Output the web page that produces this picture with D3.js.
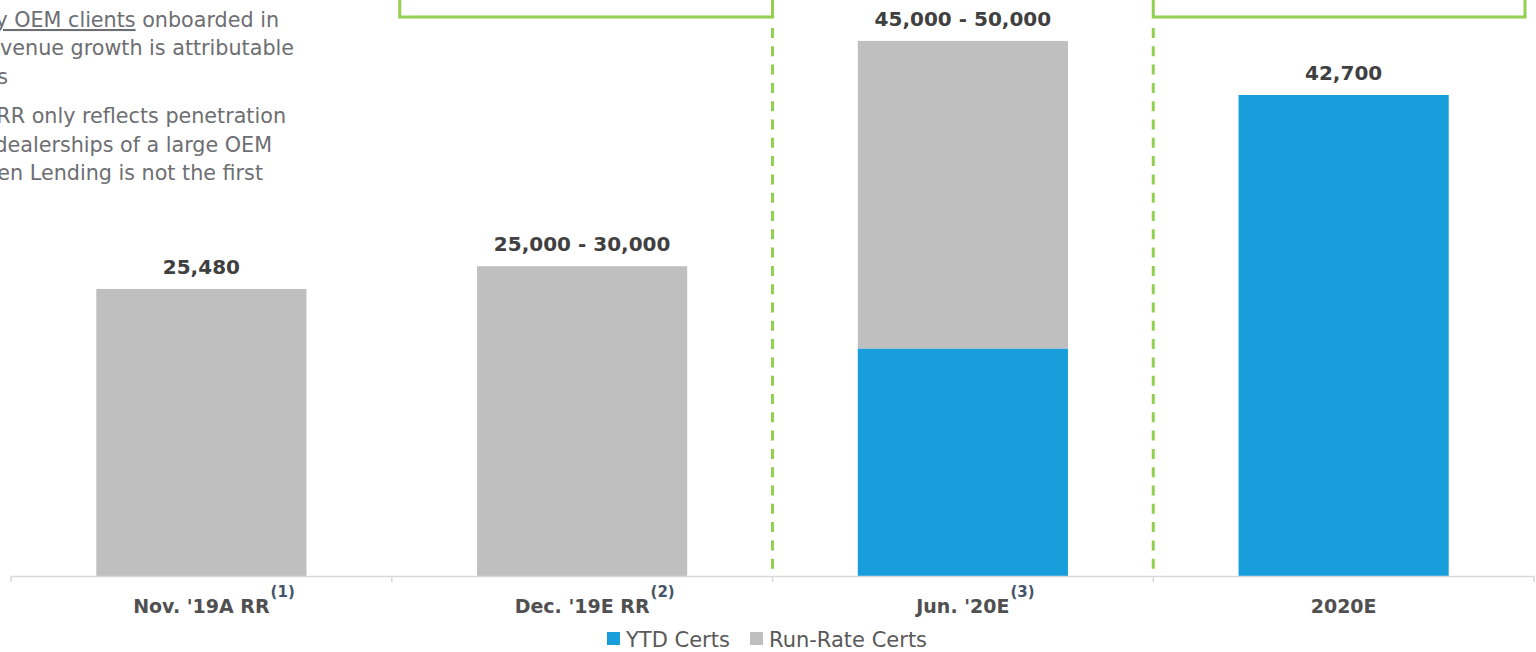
<!DOCTYPE html>
<html>
<head>
<meta charset="utf-8">
<script src="https://cdn.jsdelivr.net/npm/d3@7/dist/d3.min.js"></script>
<style>
  html, body { margin: 0; padding: 0; background: #fff; overflow: hidden; }
  svg { display: block; font-family: "DejaVu Sans", Verdana, sans-serif; }
</style>
</head>
<body>
<svg id="chart" width="1536" height="652"></svg>
<script>
// Categories and values (certs)
const categories = ["Nov. '19A RR", "Dec. '19E RR", "Jun. '20E", "2020E"];
const footnotes = ["(1)", "(2)", "(3)", ""];
const ytdCerts = [0, 0, 20200, 42700];
const totalLow = [25480, 25000, 45000, 42700];
const totalHigh = [25480, 30000, 50000, 42700];
const seriesNames = ["YTD Certs", "Run-Rate Certs"];

// Side commentary lines (partly cut by the left edge)
const noteLines = [
  "y OEM clients onboarded in",
  "venue growth is attributable",
  "OEMs",
  "RR only reflects penetration",
  "dealerships of a large OEM",
  "Open Lending is not the first"
];

const COLORS = { ytd: "#189FDB", run: "#BFBFBF", green: "#92D050" };

const svg = d3.select("#chart");
const fmt = d3.format(",");

const rows = categories.map((c, i) => {
  const mid = (totalLow[i] + totalHigh[i]) / 2;
  return {
    cat: c,
    ytd: ytdCerts[i],
    run: mid - ytdCerts[i],
    total: mid,
    label: totalLow[i] === totalHigh[i] ? fmt(totalLow[i]) : fmt(totalLow[i]) + " - " + fmt(totalHigh[i]),
    note: footnotes[i]
  };
});

const baseY = 576;
const x = d3.scaleBand().domain(categories).range([11, 1534]).padding(0);
const y = d3.scaleLinear().domain([0, 50000]).range([baseY, baseY - 50000 * 0.011265]);
const barW = x.bandwidth() * 0.552;
const cx = c => x(c) + x.bandwidth() / 2;

// Commentary text block
const notes = svg.append("g").attr("fill", "#6D6E71").attr("font-size", 20.7);
const noteY = [27, 55, 84, 123, 152, 180];
const noteEnd = [279, 294, 8, 286, 272, 263];
noteLines.forEach((t, i) => {
  const txt = notes.append("text").attr("x", noteEnd[i]).attr("y", noteY[i]).attr("text-anchor", "end");
  if (i === 0) {
    txt.append("tspan").attr("text-decoration", "underline").text("y OEM clients");
    txt.append("tspan").text(" onboarded in");
  } else {
    txt.text(t);
  }
});

// Green callout boxes along the top
const boxes = [
  { x0: x(categories[1]) + 8, x1: x(categories[2]) },
  { x0: x(categories[3]), x1: x.range()[1] - 9 }
];
svg.selectAll("rect.box").data(boxes).enter().append("rect")
  .attr("class", "box")
  .attr("x", d => d.x0).attr("y", -40)
  .attr("width", d => d.x1 - d.x0).attr("height", 57)
  .attr("fill", "none").attr("stroke", COLORS.green).attr("stroke-width", 3);

// Dashed separators between periods
[categories[2], categories[3]].forEach(c => {
  svg.append("line")
    .attr("x1", x(c)).attr("x2", x(c))
    .attr("y1", 28).attr("y2", baseY - 4)
    .attr("stroke", COLORS.green).attr("stroke-width", 3)
    .attr("stroke-dasharray", "10,8.3");
});

// Stacked bars
const stack = d3.stack().keys(["ytd", "run"]);
const layers = stack(rows);
const colorOf = { ytd: COLORS.ytd, run: COLORS.run };
svg.append("g").selectAll("g").data(layers).enter().append("g")
  .attr("fill", d => colorOf[d.key])
  .selectAll("rect").data(d => d.filter(s => s[1] - s[0] > 0)).enter().append("rect")
  .attr("x", d => cx(d.data.cat) - barW / 2)
  .attr("width", barW)
  .attr("y", d => y(d[1]))
  .attr("height", d => y(d[0]) - y(d[1]));

// Value labels
svg.append("g").selectAll("text").data(rows).enter().append("text")
  .attr("x", d => cx(d.cat))
  .attr("y", d => y(d.total) - 15)
  .attr("text-anchor", "middle")
  .attr("font-size", 20).attr("font-weight", "bold").attr("fill", "#404040")
  .text(d => d.label);

// Category axis
const axis = svg.append("g").attr("transform", `translate(0,${baseY})`)
  .call(d3.axisBottom(x).tickSize(0).tickFormat(""));
axis.select(".domain").attr("stroke", "#D9D9D9").attr("stroke-width", 1.5);
const bounds = categories.map(c => x(c)).concat([x.range()[1]]);
axis.selectAll("line.bound").data(bounds).enter().append("line")
  .attr("class", "bound")
  .attr("x1", d => d).attr("x2", d => d).attr("y1", 0).attr("y2", 6)
  .attr("stroke", "#D9D9D9").attr("stroke-width", 1.5);

const labels = svg.append("g");
rows.forEach(d => {
  const t = labels.append("text")
    .attr("x", cx(d.cat)).attr("y", 613)
    .attr("text-anchor", "middle")
    .attr("font-size", 19).attr("font-weight", "bold").attr("fill", "#505050")
    .text(d.cat);
  if (d.note) {
    const w = t.node().getComputedTextLength();
    labels.append("text")
      .attr("x", cx(d.cat) + w / 2 + 1).attr("y", 597)
      .attr("font-size", 15).attr("font-weight", "bold").attr("fill", "#44546A")
      .text(d.note);
  }
});

// Legend
const legend = svg.append("g").attr("font-size", 21).attr("fill", "#595959");
const legendItems = [
  { name: seriesNames[0], color: COLORS.ytd, x: 607 },
  { name: seriesNames[1], color: COLORS.run, x: 750 }
];
legendItems.forEach(it => {
  legend.append("rect").attr("x", it.x).attr("y", 632).attr("width", 13).attr("height", 13).attr("fill", it.color);
  legend.append("text").attr("x", it.x + 19).attr("y", 647).text(it.name);
});
</script>
</body>
</html>
